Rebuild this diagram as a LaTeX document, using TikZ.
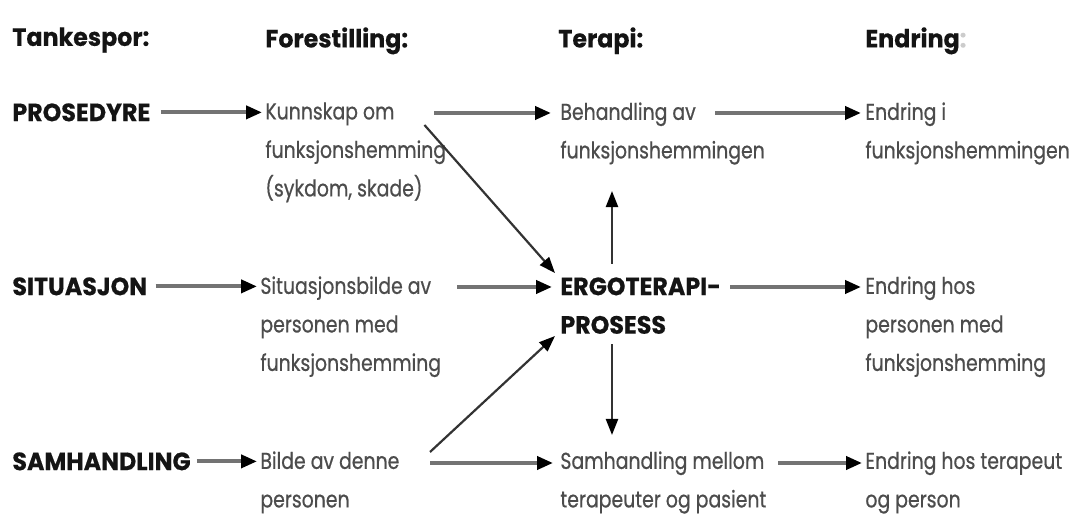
\documentclass[tikz,border=0pt]{standalone}
\usepackage{fontspec}
\newfontfamily\fut[FakeStretch=0.82,FakeBold=0.6]{Poppins}
\newfontfamily\futb[FakeStretch=0.95,FakeBold=0.4]{Poppins}
\usetikzlibrary{arrows.meta}
\tikzset{
  txt/.style={anchor=north west, inner sep=0pt, align=left, text=black!70,
    font=\fut\fontsize{11.5}{19.25}\selectfont},
  hd/.style={txt, text=black!92, font=\futb\bfseries\fontsize{12.5}{19.25}\selectfont},
  arr/.style={draw=black!55, line width=1.9pt, -{Triangle[length=8pt,width=6.5pt,color=black]}},
  darr/.style={draw=black!80, line width=1.1pt, -{Triangle[length=8pt,width=6pt,color=black]}},
}
\begin{document}
\begin{tikzpicture}[x=0.5pt,y=-0.5pt]
\useasboundingbox[fill=white] (0,0) rectangle (1081,522);
% headers
\node[hd] (t1) at (12,27) {Tankespor:};
\node[hd] (t2) at (265,27) {Forestilling:};
\node[hd] (t3) at (558,27) {Terapi:};
\node[hd] (t4) at (865,27) {Endring\textcolor{black!20}{:}};
% row 1
\node[hd] (p1) at (12,103) {PROSEDYRE};
\node[txt] (k1) at (265,102) {Kunnskap om\\funksjonshemming\\(sykdom, skade)};
\node[txt] (b1) at (560,102) {Behandling av\\funksjonshemmingen};
\node[txt] (e1) at (865,102) {Endring i\\funksjonshemmingen};
% row 2
\node[hd] (p2) at (12,277) {SITUASJON};
\node[txt] (k2) at (260,276) {Situasjonsbilde av\\personen med\\funksjonshemming};
\node[hd] (erg) at (560,277) {ERGOTERAPI-\\PROSESS};
\node[txt] (e2) at (865,276) {Endring hos\\personen med\\funksjonshemming};
% row 3
\node[hd] (p3) at (12,452) {SAMHANDLING};
\node[txt] (k3) at (260,451) {Bilde av denne\\personen};
\node[txt] (s3) at (560,451) {Samhandling mellom\\terapeuter og pasient};
\node[txt] (e3) at (865,451) {Endring hos terapeut\\og person};
% row 1 arrows
\draw[arr] ([xshift=5pt]p1.east) -- ([xshift=-1.5pt]k1.west |- p1.east);
\draw[arr] ([shift={(-12,11)}]k1.north east) -- ([shift={(-9,11)}]b1.north west);
\draw[arr] ([shift={(155,11)}]b1.north west) -- ([shift={(-4,11)}]e1.north west);
\draw[darr] ([shift={(-22,23)}]k1.north east) -- ([shift={(-5,-4)}]erg.north west);
% row 2 arrows
\draw[arr] ([xshift=4pt]p2.east) -- ([xshift=-1.5pt]k2.west |- p2.east);
\draw[arr] ([shift={(197,11)}]k2.north west) -- ([shift={(-8,10)}]erg.north west);
\draw[arr] ([shift={(170,10)}]erg.north west) -- ([shift={(-4,11)}]e2.north west);
\draw[darr] ([shift={(52,-13)}]erg.north west) -- ([shift={(52,26)}]erg.north west |- b1.south);
\draw[darr] ([shift={(52,10)}]erg.south west) -- ([shift={(52,-16)}]erg.south west |- s3.north);
% row 3 arrows
\draw[arr] ([xshift=3pt]p3.east) -- ([xshift=-1.5pt]k3.west |- p3.east);
\draw[arr] ([shift={(170,12)}]k3.north west) -- ([shift={(-7,12)}]s3.north west);
\draw[darr] ([shift={(170,1)}]k3.north west) -- ([shift={(-5,59)}]erg.north west);
\draw[arr] ([shift={(218,12)}]s3.north west) -- ([shift={(-3,12)}]e3.north west);
\end{tikzpicture}
\end{document}
